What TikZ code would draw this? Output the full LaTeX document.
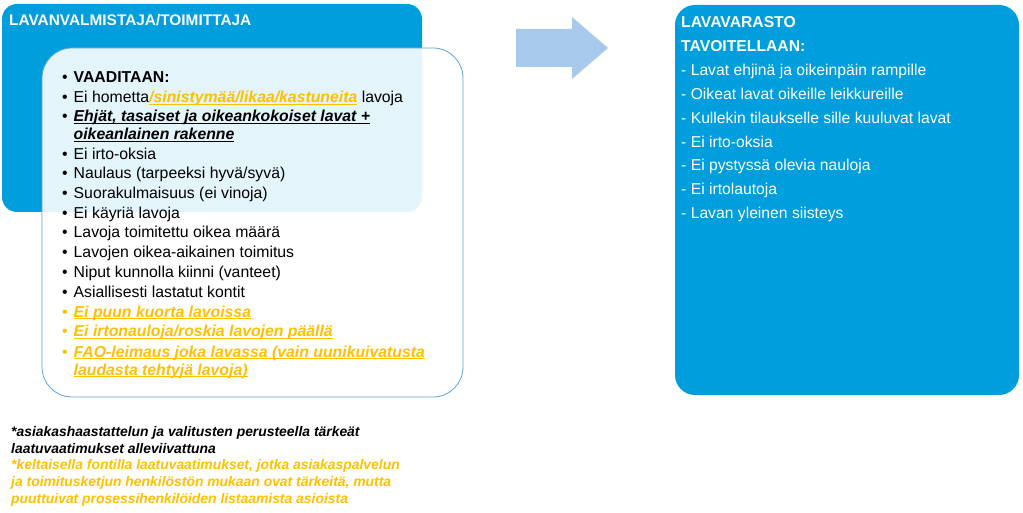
\documentclass[tikz,border=0pt]{standalone}
\usepackage{fontspec}
\setmainfont{Liberation Sans}
\definecolor{boxblue}{RGB}{0,158,220}
\definecolor{edgeblue}{RGB}{91,165,215}
\definecolor{arrowblue}{RGB}{167,201,235}
\definecolor{gold}{RGB}{255,192,0}
\newcommand{\bul}{\makebox[11.5pt][l]{•}}
\newcommand{\myul}[1]{\setbox0\hbox{#1}\rlap{\rule[-2.2pt]{\wd0}{1.1pt}}\box0}
\newcommand{\yel}[1]{\textcolor{gold}{\bfseries\itshape\myul{#1}}}
\begin{document}
\begin{tikzpicture}[x=1pt,y=-1pt,
  txt/.style={anchor=base west,inner sep=0pt,font=\fontsize{15.8}{18}\selectfont},
  wtxt/.style={anchor=base west,inner sep=0pt,text=white,font=\fontsize{15.7}{18}\selectfont},
  note/.style={anchor=base west,inner sep=0pt,font=\fontsize{13.9}{16}\selectfont\bfseries\itshape},
  bluebox/.style={rectangle,fill=boxblue,anchor=north west,inner sep=0pt,outer sep=0pt},
  paperbox/.style={rectangle,draw=edgeblue,line width=0.8pt,fill=white,fill opacity=0.89,anchor=north west,inner sep=0pt,outer sep=0pt,rounded corners=30pt}]
\useasboundingbox (0,0) rectangle (1023,513);
% boxes
\node[bluebox,rounded corners=15pt,minimum width=420pt,minimum height=208pt] (supplier) at (2,4) {};
\node[paperbox,minimum width=421pt,minimum height=349pt] (req) at (42,48) {};
\node[bluebox,rounded corners=20pt,minimum width=344pt,minimum height=390pt] (store) at (675,5) {};
% block arrow
\fill[arrowblue] (516,29) -- (572,29) -- (572,17) -- (608,48) -- (572,79) -- (572,67) -- (516,67) -- cycle;
% supplier title
\node[wtxt,font=\fontsize{15.4}{17}\selectfont\bfseries] (title1) at (9,25.5) {LAVANVALMISTAJA/TOIMITTAJA};
% requirements
\node[txt] (r1) at (62,83) {\bul\textbf{VAADITAAN:}};
\node[txt] (r2) at (62,102.5) {\bul Ei hometta\yel{/sinistymää/likaa/kastuneita} lavoja};
\node[txt] (r3) at (62,122) {\bul{\bfseries\itshape\myul{Ehjät, tasaiset ja oikeankokoiset lavat +}}};
\node[txt] (r3b) at (73.5,139.5) {\bfseries\itshape\myul{oikeanlainen rakenne}};
\node[txt] (r4) at (62,159.5) {\bul Ei irto-oksia};
\node[txt] (r5) at (62,179) {\bul Naulaus (tarpeeksi hyvä/syvä)};
\node[txt] (r6) at (62,198.5) {\bul Suorakulmaisuus (ei vinoja)};
\node[txt] (r7) at (62,218.5) {\bul Ei käyriä lavoja};
\node[txt] (r8) at (62,238) {\bul Lavoja toimitettu oikea määrä};
\node[txt] (r9) at (62,257.5) {\bul Lavojen oikea-aikainen toimitus};
\node[txt] (r10) at (62,277.5) {\bul Niput kunnolla kiinni (vanteet)};
\node[txt] (r11) at (62,297) {\bul Asiallisesti lastatut kontit};
\node[txt,text=gold] (r12) at (62,317) {\bul\yel{Ei puun kuorta lavoissa}};
\node[txt,text=gold] (r13) at (62,336.5) {\bul\yel{Ei irtonauloja/roskia lavojen päällä}};
\node[txt,text=gold] (r14) at (62,357) {\bul\yel{FAO-leimaus joka lavassa (vain uunikuivatusta}};
\node[txt,text=gold] (r14b) at (73.5,375) {\yel{laudasta tehtyjä lavoja)}};
% storage
\node[wtxt] (s0) at (681,28) {\bfseries LAVAVARASTO};
\node[wtxt] (s1) at (681,52) {\bfseries TAVOITELLAAN:};
\node[wtxt] (s2) at (681,76) {- Lavat ehjinä ja oikeinpäin rampille};
\node[wtxt] (s3) at (681,99.8) {- Oikeat lavat oikeille leikkureille};
\node[wtxt] (s4) at (681,123.5) {- Kullekin tilaukselle sille kuuluvat lavat};
\node[wtxt] (s5) at (681,147.2) {- Ei irto-oksia};
\node[wtxt] (s6) at (681,171) {- Ei pystyssä olevia nauloja};
\node[wtxt] (s7) at (681,194.7) {- Ei irtolautoja};
\node[wtxt] (s8) at (681,218.5) {- Lavan yleinen siisteys};
% notes
\node[note] (n1) at (11,436) {*asiakashaastattelun ja valitusten perusteella tärkeät};
\node[note] (n2) at (11,453) {laatuvaatimukset alleviivattuna};
\node[note,text=gold] (n3) at (11,469.5) {*keltaisella fontilla laatuvaatimukset, jotka asiakaspalvelun};
\node[note,text=gold] (n4) at (11,486) {ja toimitusketjun henkilöstön mukaan ovat tärkeitä, mutta};
\node[note,text=gold] (n5) at (11,503) {puuttuivat prosessihenkilöiden listaamista asioista};
\end{tikzpicture}
\end{document}
